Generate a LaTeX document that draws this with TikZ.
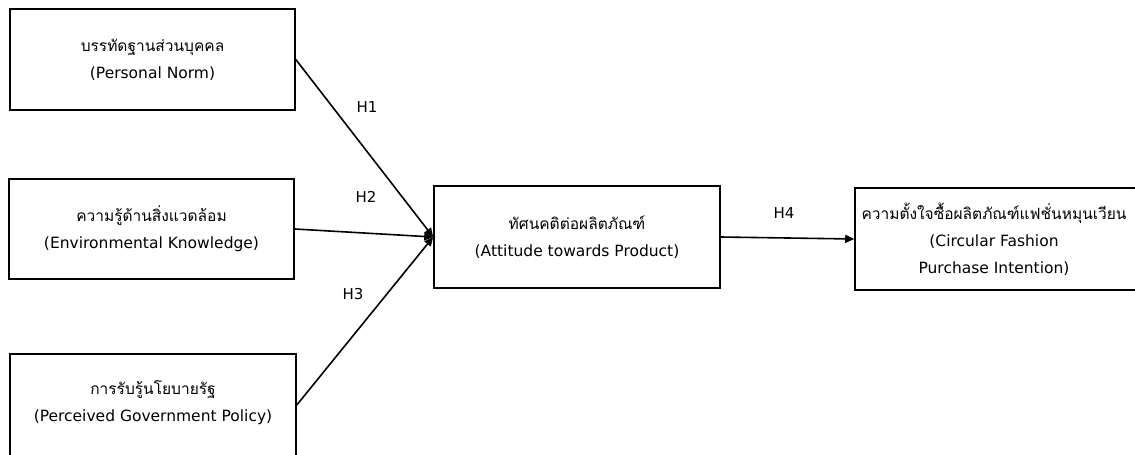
\documentclass[tikz,border=0pt]{standalone}
\usepackage{fontspec}
\setmainfont[Script=Thai]{Loma}
\newfontfamily\latin{DejaVu Sans}
\usetikzlibrary{arrows.meta}
\newcommand{\en}[1]{{\latin\fontsize{15.5}{27}\selectfont #1}}
\tikzset{
  box/.style={draw, line width=1.6pt, rectangle, align=center, inner sep=0pt},
  txt/.style={align=center, inner sep=0pt, font=\fontsize{15.5}{27}\selectfont},
  hyp/.style={inner sep=0pt, font=\latin\fontsize{15}{18}\selectfont},
  conn/.style={line width=1.6pt, -{Triangle[length=9pt,width=8pt]}}
}
\begin{document}
\begin{tikzpicture}[x=1pt,y=-1pt]
\useasboundingbox (0,0) rectangle (1135,455);
\clip (0,0) rectangle (1135,455);
\node[box, minimum width=285pt, minimum height=101pt] (pn) at (152.5,59.5) {};
\node[txt] at (pn.center) {บรรทัดฐานส่วนบุคคล\\\en{(Personal Norm)}};
\node[box, minimum width=285pt, minimum height=100pt] (ek) at (151.5,229) {};
\node[txt] at (ek.center) {ความรู้ด้านสิ่งแวดล้อม\\\en{(Environmental Knowledge)}};
\node[box, minimum width=286pt, minimum height=102pt] (gp) at (153,405) {};
\node[txt] at (153,403) {การรับรู้นโยบายรัฐ\\\en{(Perceived Government Policy)}};
\node[box, minimum width=286pt, minimum height=102pt] (at) at (577,237) {};
\node[txt] at (at.center) {ทัศนคติต่อผลิตภัณฑ์\\\en{(Attitude towards Product)}};
\node[box, minimum width=285pt, minimum height=102pt] (ci) at (997.5,239) {};
\node[txt] at (994,239) {ความตั้งใจซื้อผลิตภัณฑ์แฟชั่นหมุนเวียน\\\en{(Circular Fashion}\\\en{Purchase Intention)}};
\draw[conn] (pn.east) -- (at.west);
\draw[conn] (ek.east) -- (at.west);
\draw[conn] (gp.east) -- (at.west);
\draw[conn] (at.east) -- (ci.west);
\node[hyp] (h1) at (367,107) {H1};
\node[hyp] (h2) at (366,197) {H2};
\node[hyp] (h3) at (353,294) {H3};
\node[hyp] (h4) at (784,213) {H4};
\end{tikzpicture}
\end{document}
